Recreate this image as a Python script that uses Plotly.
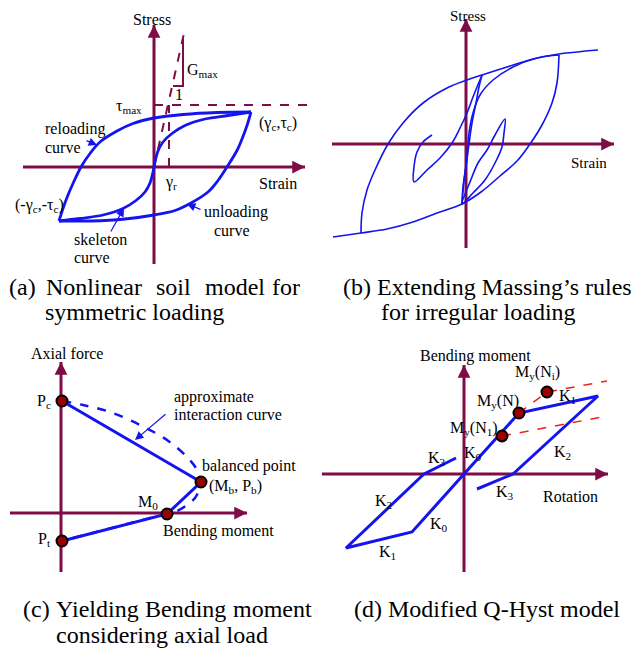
import plotly.graph_objects as go

W, H = 639, 652
PAD = 8  # the page body margin shifts the figure by 8 px
FW, FH = W - PAD, H - PAD
FONT = "Liberation Serif"
MAROON = "#7e0c46"
BLUE = "#1414f0"
RED = "#f02020"
DOT = "#9a0000"

# ---------------- (a) nonlinear soil model ----------------
skeleton_strain = [-95, -74, -51, -31, -18, -9, -4, -1, 0, 1, 4, 9, 18, 31, 51, 74, 97]
skeleton_stress = [-54, -51.5, -48, -41.5, -33.5, -25, -16, -5, 0, 5, 16, 25, 33.5, 41.5, 48, 51.5, 55]
reload_strain = [-95, -91, -86, -81, -73, -64, -54, -37, -21, 0, 29, 63, 97]
reload_stress = [-54, -41.5, -28, -16.5, 0, 13.5, 25, 36, 43.5, 49, 52.5, 54.5, 55]
unload_strain = [97, 93, 88, 83, 73, 64, 54, 37, 21, 0, -29, -63, -95]
unload_stress = [55, 41.5, 28, 16.5, 0, -13.5, -25, -36, -43.5, -48, -52, -54, -54]
gmax_strain = [0, 31]
gmax_stress = [0, 138]
tau_max = 62
gamma_r = 15

# ---------------- (b) extended Masing rules ----------------
b_upper_x = [-105, -104, -99, -91, -78, -63, -43, -19, 1, 16, 41, 67, 93, 132]
b_upper_y = [-89, -69, -46, -26, 0, 21, 41, 56, 64, 69, 77, 85, 90, 94]
b_lower_x = [-133, -105, -79, -53, -29, -4, 15, 34, 51, 64, 76, 86, 91, 93]
b_lower_y = [-93, -89, -85, -78, -69, -60, -48, -32, -17, 0, 19, 41, 61, 89]
b_unload_x = [16, 13, 10, 6, 3, 0, -3, -4]
b_unload_y = [69, 57, 41, 21, 0, -23, -43, -60]
b_reload_x = [-4, -2, 1, 3, 7, 14, 27, 47, 71, 93]
b_reload_y = [-60, -36, -13, 11, 31, 49, 64, 77, 86, 89]
b_small_r_x = [-4, 4, 12, 21, 29, 39, 38, 36, 29, 19, 7, -4]
b_small_r_y = [-60, -38, -19, -6, 9, 25, 11, -3, -19, -36, -49, -60]
b_small_l_x = [-34, -43, -49, -52, -52, -39, -26, -14, -6, 1, 7, 16]
b_small_l_y = [9, 2, -8, -23, -38, -26, -14, 1, 16, 31, 47, 69]

# ---------------- (c) yielding moment vs axial load ----------------
c_moment = [1, 140, 106, 1]
c_axial = [112, 31, -1, -28]
c_curve_m = [1, 22, 49, 79, 106, 126, 136, 139, 138, 134, 126, 116, 106, 89, 66, 39, 12, 1]
c_curve_p = [112, 108, 101, 88, 73, 56, 43, 31, 23, 15, 8, 2, -1, -5, -11, -18, -25, -28]

# ---------------- (d) modified Q-Hyst ----------------
d_rot = [-8, -40, -118, -52, 0, 55, 134, 49, 13]
d_mom = [16, 0, -74, -58, 0, 61, 78, 0, -15]
d_yield_rot = [38, 55, 83]
d_yield_mom = [38, 61, 82]
d_n1_rot = [38, 138]
d_n1_mom = [38, 57]
d_ni_rot = [55, 83, 143]
d_ni_mom = [61, 82, 93]

# panel placement in page pixels: x0, x1, y0, y1, origin x, origin y
PANELS = [
    (8, 320, 8, 270, 154, 167),
    (320, 639, 8, 270, 466, 144),
    (8, 320, 340, 592, 61, 513),
    (320, 639, 340, 592, 464, 474),
]


def fx(px):
    return (px - PAD) / FW


def fy(py):
    return 1 - (py - PAD) / FH


fig = go.Figure()
layout = dict(width=FW, height=FH, margin=dict(l=0, r=0, t=0, b=0),
              paper_bgcolor="white", plot_bgcolor="rgba(0,0,0,0)", showlegend=False)
for i, (x0, x1, y0, y1, ox, oy) in enumerate(PANELS, start=1):
    sfx = "" if i == 1 else str(i)
    layout["xaxis" + sfx] = dict(domain=[fx(x0), fx(x1)], range=[x0 - ox, x1 - ox],
                                 visible=False, anchor="y" + sfx, fixedrange=True)
    layout["yaxis" + sfx] = dict(domain=[fy(y1), fy(y0)], range=[oy - y1, oy - y0],
                                 visible=False, anchor="x" + sfx, fixedrange=True)
fig.update_layout(**layout)

shapes = []
annotations = []


def refs(i):
    return ("x" if i == 1 else f"x{i}"), ("y" if i == 1 else f"y{i}")


def line(i, xs, ys, color=BLUE, width=2.5, dash="solid", spline=False):
    xr, yr = refs(i)
    fig.add_trace(go.Scatter(x=xs, y=ys, xaxis=xr, yaxis=yr, mode="lines",
                             line=dict(color=color, width=width, dash=dash,
                                       shape="spline" if spline else "linear"),
                             hoverinfo="skip"))


def axis(i, x0, y0, x1, y1):
    xr, yr = refs(i)
    shapes.append(dict(type="line", xref=xr, yref=yr, x0=x0, y0=y0, x1=x1, y1=y1,
                       line=dict(color=MAROON, width=3), layer="below"))
    dx = (x1 - x0) / max(abs(x1 - x0), abs(y1 - y0))
    dy = (y1 - y0) / max(abs(x1 - x0), abs(y1 - y0))
    annotations.append(dict(x=x1, y=y1, ax=x1 - 14 * dx, ay=y1 - 14 * dy, xref=xr, yref=yr,
                            axref=xr, ayref=yr, text="", showarrow=True, arrowhead=2,
                            arrowsize=0.85, arrowwidth=3, arrowcolor=MAROON, standoff=0))


def label(i, text, x, y, anchor="center", size=16):
    xr, yr = refs(i)
    annotations.append(dict(x=x, y=y, xref=xr, yref=yr, text=text, showarrow=False,
                            xanchor=anchor, yanchor="middle",
                            font=dict(family=FONT, size=size, color="black")))


def pointer(i, tail, tip):
    xr, yr = refs(i)
    annotations.append(dict(x=tip[0], y=tip[1], ax=tail[0], ay=tail[1], xref=xr, yref=yr,
                            axref=xr, ayref=yr, text="", showarrow=True, arrowhead=2,
                            arrowsize=1.4, arrowwidth=1.2, arrowcolor=BLUE, standoff=0))


def caption(text, x, y, anchor="left"):
    annotations.append(dict(x=fx(x), y=fy(y), xref="paper", yref="paper", text=text,
                            showarrow=False, xanchor=anchor, yanchor="middle",
                            font=dict(family=FONT, size=24, color="black")))


# ----- panel (a)
axis(1, -131, 0, 151, 0)
axis(1, 0, -97, 0, 142)
line(1, [0, 158], [tau_max, tau_max], MAROON, 2, "dash")
line(1, [gamma_r, gamma_r], [0, tau_max], MAROON, 2, "dash")
line(1, gmax_strain, gmax_stress, MAROON, 2, "dash")
line(1, [19, 29, 29], [81, 81, 128], MAROON, 2)
line(1, skeleton_strain, skeleton_stress, width=2.8, spline=True)
line(1, reload_strain, reload_stress, width=2.8, spline=True)
line(1, unload_strain, unload_stress, width=2.8, spline=True)
label(1, "Stress", -2, 148)
label(1, "Strain", 124, -16)
label(1, "τ<sub>max</sub>", -10, 61, "right")
label(1, "G<sub>max</sub>", 31, 97, "left")
label(1, "1", 25, 73)
label(1, "γ<sub>r</sub>", 17, -15)
label(1, "(γ<sub>c</sub>,τ<sub>c</sub>)", 103, 44, "left")
label(1, "(-γ<sub>c</sub>,-τ<sub>c</sub>)", -88, -38, "right")
label(1, "reloading", -111, 38, "left")
label(1, "curve", -111, 20, "left")
label(1, "unloading", 48, -45, "left")
label(1, "curve", 78, -63)
label(1, "skeleton", -82, -72, "left")
label(1, "curve", -82, -90, "left")
pointer(1, (-69, 27), (-57, 22))
pointer(1, (48, -43), (33, -37))
pointer(1, (-44, -66), (-30, -41))

# ----- panel (b)
axis(2, -134, 0, 148, 0)
axis(2, 0, -104, 0, 125)
for xs, ys in [(b_upper_x, b_upper_y), (b_lower_x, b_lower_y), (b_unload_x, b_unload_y),
               (b_reload_x, b_reload_y), (b_small_r_x, b_small_r_y), (b_small_l_x, b_small_l_y)]:
    line(2, xs, ys, width=1.6, spline=True)
label(2, "Stress", 2, 128, size=15)
label(2, "Strain", 123, -19, size=15)

# ----- panel (c)
axis(3, -51, 0, 186, 0)
axis(3, 0, -59, 0, 151)
line(3, c_curve_m, c_curve_p, width=2.5, dash="dash", spline=True)
line(3, c_moment, c_axial, width=3)
xr, yr = refs(3)
fig.add_trace(go.Scatter(x=c_moment, y=c_axial, xaxis=xr, yaxis=yr, mode="markers",
                         marker=dict(size=11, color=DOT, line=dict(color="black", width=2)),
                         hoverinfo="skip", cliponaxis=False))
label(3, "Axial force", 6, 160)
label(3, "Bending moment", 157, -18)
label(3, "P<sub>c</sub>", -8, 112, "right")
label(3, "P<sub>t</sub>", -8, -26, "right")
label(3, "M<sub>0</sub>", 99, 11, "right")
label(3, "balanced point", 139, 47, "left")
label(3, "(M<sub>b</sub>, P<sub>b</sub>)", 146, 27, "left")
label(3, "approximate", 111, 116, "left")
label(3, "interaction curve", 111, 99, "left")
pointer(3, (106, 100), (74, 73))

# ----- panel (d)
axis(4, -142, 0, 144, 0)
axis(4, 0, -98, 0, 109)
line(4, d_n1_rot, d_n1_mom, RED, 1.5, "dash")
line(4, d_ni_rot, d_ni_mom, RED, 1.5, "dash")
line(4, d_rot, d_mom, width=3)
xr, yr = refs(4)
fig.add_trace(go.Scatter(x=d_yield_rot, y=d_yield_mom, xaxis=xr, yaxis=yr, mode="markers",
                         marker=dict(size=11, color=DOT, line=dict(color="black", width=2)),
                         hoverinfo="skip", cliponaxis=False))
label(4, "Bending moment", 11, 118)
label(4, "Rotation", 106, -22)
label(4, "M<sub>y</sub>(N<sub>i</sub>)", 73, 102)
label(4, "M<sub>y</sub>(N)", 34, 73)
label(4, "M<sub>y</sub>(N<sub>1</sub>)", 10, 46)
label(4, "K<sub>1</sub>", 103, 78)
label(4, "K<sub>2</sub>", 98, 22)
label(4, "K<sub>0</sub>", 9, 21)
label(4, "K<sub>3</sub>", -27, 16)
label(4, "K<sub>3</sub>", 41, -18)
label(4, "K<sub>2</sub>", -81, -27)
label(4, "K<sub>0</sub>", -25, -50)
label(4, "K<sub>1</sub>", -77, -78)

# ----- captions
for word, x in [("(a)", 7), ("Nonlinear", 44), ("soil", 154), ("model", 203), ("for", 270)]:
    caption(word, x, 287)
caption("symmetric loading", 43, 312)
caption("(b) Extending Massing’s rules", 341, 287)
caption("for irregular loading", 379, 312)
for word, x in [("(c)", 21), ("Yielding", 54), ("Bending", 143), ("moment", 231)]:
    caption(word, x, 609)
caption("considering axial load", 54, 635)
caption("(d) Modified Q-Hyst model", 352, 609)

fig.update_layout(shapes=shapes, annotations=annotations)
fig.write_html("out.html")
